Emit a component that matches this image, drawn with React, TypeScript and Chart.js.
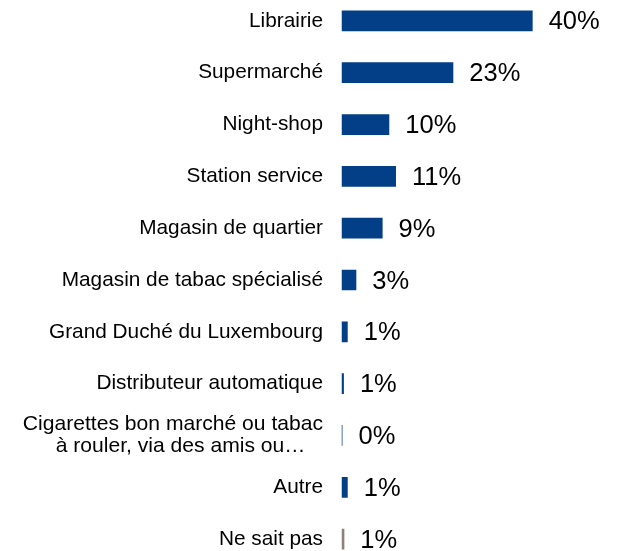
import { useEffect, useRef } from "react";
import { Chart, registerables } from "chart.js";

Chart.register(...registerables);

const categories: (string | string[])[] = [
  "Librairie",
  "Supermarché",
  "Night-shop",
  "Station service",
  "Magasin de quartier",
  "Magasin de tabac spécialisé",
  "Grand Duché du Luxembourg",
  "Distributeur automatique",
  ["Cigarettes bon marché ou tabac", "à rouler, via des amis ou…\u00a0\u00a0\u00a0"],
  "Autre",
  "Ne sait pas",
];

const values = [40, 23.4, 10, 11.4, 8.6, 3.1, 1.3, 0.5, 0.2, 1.3, 0.6];

const valueLabels = ["40%", "23%", "10%", "11%", "9%", "3%", "1%", "1%", "0%", "1%", "1%"];

const barColors = [
  "#023F87",
  "#023F87",
  "#023F87",
  "#023F87",
  "#023F87",
  "#023F87",
  "#023F87",
  "#023F87",
  "#023F87",
  "#023F87",
  "#8E7F7B",
];

const FONT = "'Liberation Sans', Arial, Helvetica, sans-serif";

const valueLabelPlugin = {
  id: "valueLabels",
  afterDatasetsDraw(chart: any) {
    const ctx = chart.ctx;
    const meta = chart.getDatasetMeta(0);
    ctx.save();
    ctx.font = `25.5px ${FONT}`;
    ctx.fillStyle = "#000000";
    ctx.textAlign = "left";
    ctx.textBaseline = "middle";
    meta.data.forEach((bar: any, i: number) => {
      ctx.fillText(valueLabels[i], bar.x + 16, bar.y + 1.5);
    });
    ctx.restore();
  },
};

export default function App() {
  const canvasRef = useRef<HTMLCanvasElement | null>(null);

  useEffect(() => {
    if (!canvasRef.current) return;
    const chart = new Chart(canvasRef.current, {
      type: "bar",
      data: {
        labels: categories,
        datasets: [
          {
            data: values,
            backgroundColor: barColors,
            borderWidth: 0,
            barPercentage: 0.4,
            categoryPercentage: 1,
          },
        ],
      },
      options: {
        indexAxis: "y",
        responsive: false,
        animation: false,
        layout: { padding: 0 },
        plugins: {
          legend: { display: false },
          tooltip: { enabled: false },
        },
        scales: {
          x: {
            display: false,
            min: 0,
            max: 57.65,
          },
          y: {
            grid: { display: false, drawTicks: false },
            border: { display: false },
            ticks: {
              padding: 18.5,
              color: "#000000",
              font: (c: any) => ({
                family: FONT,
                size: c.index === 8 ? 21.1 : 20.8,
                lineHeight: 1.06,
              }),
            },
            afterFit(scale: any) {
              scale.width = 341.5;
              scale.paddingTop = 0;
              scale.paddingBottom = 0;
            },
          },
        },
      },
      plugins: [valueLabelPlugin],
    });
    return () => chart.destroy();
  }, []);

  return (
    <div
      style={{
        position: "fixed",
        left: 0,
        top: 0,
        width: 617,
        height: 551,
        overflow: "hidden",
        background: "#ffffff",
      }}
    >
      <canvas
        ref={canvasRef}
        width={617}
        height={570}
        style={{ display: "block", position: "relative", top: -5 }}
      />
    </div>
  );
}
